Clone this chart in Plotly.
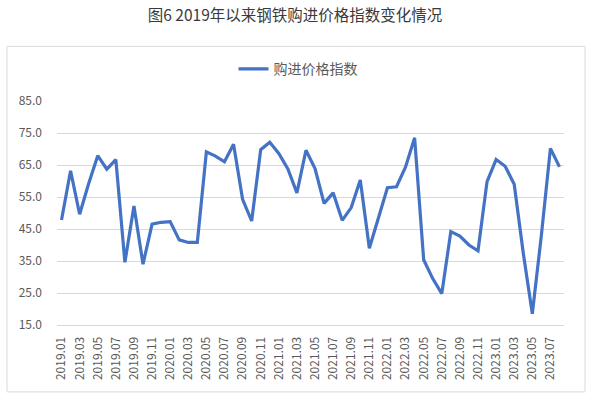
import plotly.graph_objects as go

months = [f"{y}.{m:02d}" for y in range(2019, 2024) for m in range(1, 13)][:56]

values = [47.8, 63.2, 49.6, 59.2, 67.9, 63.7, 66.7, 34.6, 52.2, 34.0,
          46.5, 47.1, 47.3, 41.6, 40.8, 40.8, 69.1, 67.8, 66.0, 71.5,
          54.3, 47.5, 69.8, 72.1, 68.6, 63.8, 56.3, 69.6, 63.9, 53.0,
          56.3, 47.7, 51.7, 60.3, 39.0, 48.3, 57.9, 58.2, 64.4, 73.5,
          35.4, 29.5, 24.8, 44.2, 42.8, 40.0, 38.2, 59.8, 66.7, 64.6,
          59.0, 37.5, 18.5, 43.0, 70.2, 64.4]

series_name = "购进价格指数"
title_text = "图6 2019年以来钢铁购进价格指数变化情况"
y_ticks = [15, 25, 35, 45, 55, 65, 75, 85]
x_tick_labels = months[::2]

W, H = 590, 397
L, R, T, B = 57, 564, 100.7, 325.0

def px_x(x):
    return (x - L) / (R - L)

def px_y(y):
    return (B - y) / (B - T)

fig = go.Figure()
fig.add_trace(go.Scatter(
    x=months, y=values, mode="lines", name=series_name,
    line=dict(color="#4472C4", width=3.2),
))

font_family = "Noto Sans CJK SC, Microsoft YaHei, sans-serif"

fig.update_layout(
    width=W, height=H,
    margin=dict(l=L, r=W - R, t=T, b=H - B),
    paper_bgcolor="white", plot_bgcolor="white",
    font=dict(family=font_family, color="#595959", size=12),
    title=dict(text=title_text, x=0.5, xanchor="center",
               y=1 - 16 / H, yanchor="middle", yref="container",
               font=dict(size=15.5, color="#3a3a3a", family=font_family)),
    showlegend=True,
    legend=dict(orientation="h", x=px_x(298), xanchor="center",
                y=px_y(69), yanchor="middle",
                font=dict(size=14, color="#595959"),
                bgcolor="rgba(0,0,0,0)"),
    shapes=[dict(type="rect", xref="paper", yref="paper",
                 x0=px_x(7), x1=px_x(585), y0=px_y(392), y1=px_y(46),
                 line=dict(color="#D9D9D9", width=1), layer="below")],
)

fig.update_xaxes(
    type="category", range=[-0.5, len(months) - 0.5],
    tickmode="array", tickvals=x_tick_labels, ticktext=x_tick_labels,
    tickangle=-90, showgrid=False, showline=True, linecolor="#D9D9D9",
    ticks="", ticklabelstandoff=6,
    tickfont=dict(size=12, color="#595959"),
)
fig.update_yaxes(
    range=[15, 85], tickvals=y_ticks,
    ticktext=[f"{v:.1f}" for v in y_ticks],
    showgrid=True, gridcolor="#D9D9D9", gridwidth=1,
    zeroline=False, showline=False, ticks="", ticklabelstandoff=14,
    tickfont=dict(size=12, color="#595959"),
)

fig.write_html("out.html")
